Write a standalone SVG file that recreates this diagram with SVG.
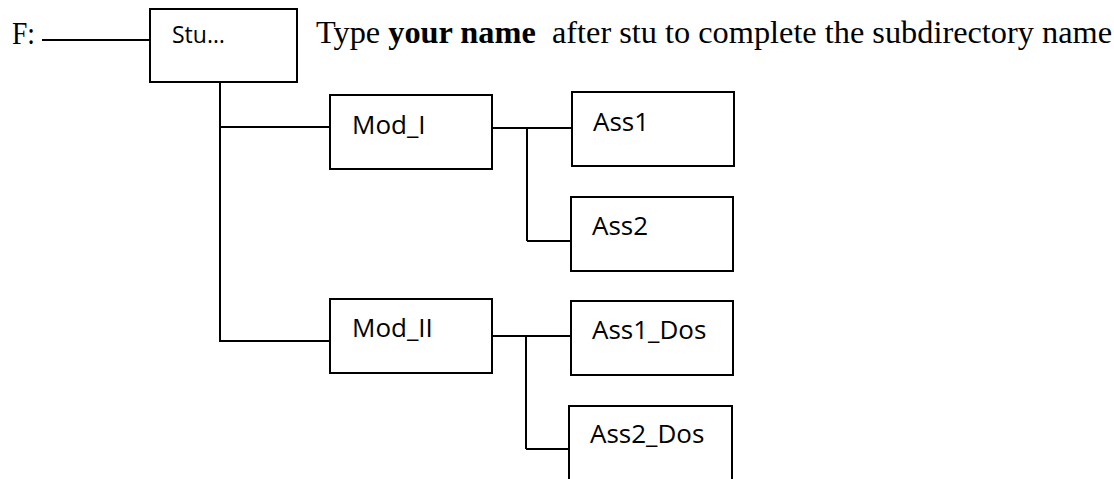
<svg xmlns="http://www.w3.org/2000/svg" width="1114" height="479" viewBox="0 0 1114 479">
<style>
.box{fill:#fff;stroke:#000;stroke-width:2}
.ln{stroke:#000;stroke-width:2;fill:none}
.lbl{font-family:"Open Sans","Liberation Sans",sans-serif;font-size:26px;fill:#000}
.ser{font-family:"Liberation Serif","Times New Roman",serif;font-size:31px;fill:#000}
</style>
<rect width="1114" height="479" fill="#fff"/>
<g id="connectors">
<line class="ln" x1="42" y1="40" x2="150" y2="40"/>
<line class="ln" x1="220" y1="82" x2="220" y2="342"/>
<line class="ln" x1="220" y1="127" x2="330" y2="127"/>
<line class="ln" x1="220" y1="341" x2="330" y2="341"/>
<line class="ln" x1="492" y1="128" x2="572" y2="128"/>
<line class="ln" x1="527" y1="128" x2="527" y2="241"/>
<line class="ln" x1="527" y1="241" x2="571" y2="241"/>
<line class="ln" x1="492" y1="336" x2="571" y2="336"/>
<line class="ln" x1="526" y1="336" x2="526" y2="449"/>
<line class="ln" x1="526" y1="449" x2="569" y2="449"/>
</g>
<g id="root"><text class="ser" x="12" y="44" textLength="23" lengthAdjust="spacingAndGlyphs">F:</text></g>
<g id="stu"><rect class="box" x="150" y="9" width="147" height="73"/><text class="lbl" x="172" y="43" style="font-size:23px">Stu…</text></g>
<g id="note"><text class="ser" x="316" y="43" xml:space="preserve" textLength="796" lengthAdjust="spacingAndGlyphs">Type <tspan font-weight="bold">your name</tspan>  after stu to complete the subdirectory name</text></g>
<g id="mod1"><rect class="box" x="330" y="95" width="162" height="74"/><text class="lbl" x="352" y="134">Mod_I</text></g>
<g id="mod2"><rect class="box" x="330" y="299" width="162" height="74"/><text class="lbl" x="352" y="337">Mod_II</text></g>
<g id="ass1"><rect class="box" x="572" y="92" width="162" height="74"/><text class="lbl" x="593" y="131">Ass1</text></g>
<g id="ass2"><rect class="box" x="571" y="197" width="162" height="74"/><text class="lbl" x="592" y="235">Ass2</text></g>
<g id="ass1dos"><rect class="box" x="571" y="301" width="162" height="74"/><text class="lbl" x="592" y="339">Ass1_Dos</text></g>
<g id="ass2dos"><rect class="box" x="569" y="406" width="163" height="80"/><text class="lbl" x="590" y="443">Ass2_Dos</text></g>
</svg>
